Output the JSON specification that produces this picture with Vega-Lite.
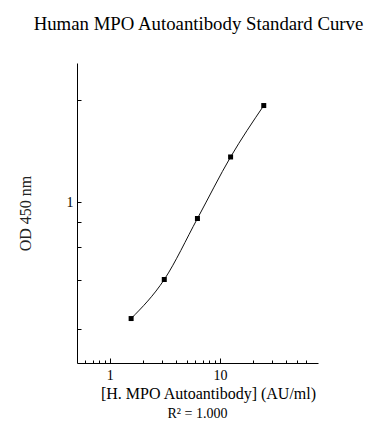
{
  "$schema": "https://vega.github.io/schema/vega-lite/v6.json",
  "background": "white",
  "padding": {"left": 17, "top": 15, "right": 5, "bottom": 5},
  "title": {"text": "Human MPO Autoantibody Standard Curve", "font": "Liberation Serif", "fontSize": 18.8, "fontWeight": "normal", "color": "#000", "anchor": "middle", "offset": 29, "dx": 31},
  "config": {"view": {"stroke": null}, "font": "Liberation Serif"},
  "vconcat": [
    {
      "title": {"text": "R² = 1.000", "orient": "bottom", "font": "Liberation Serif", "fontSize": 14, "fontWeight": "normal", "color": "#000", "anchor": "middle", "offset": 6},
      "width": 241,
      "height": 300,
      "data": {"values": [
        {"conc": 1.5625, "od": 0.268},
        {"conc": 3.125, "od": 0.417},
        {"conc": 6.25, "od": 0.832},
        {"conc": 12.5, "od": 1.67},
        {"conc": 25, "od": 2.99}
      ]},
      "encoding": {
        "x": {"field": "conc", "type": "quantitative",
          "scale": {"type": "log", "domain": [0.504, 77.7], "nice": false},
          "axis": {"values": [0.6, 0.7, 0.8, 0.9, 1, 2, 3, 4, 5, 6, 7, 8, 9, 10, 20, 30, 40, 50, 60],
            "labelExpr": "datum.value == 1 || datum.value == 10 ? datum.label : ''",
            "grid": false, "domainColor": "#000", "domainWidth": 1, "tickColor": "#000", "tickWidth": 1,
            "tickSize": {"condition": {"test": "datum.value == 1 || datum.value == 10", "value": -5}, "value": -3},
            "labelFont": "Liberation Serif", "labelFontSize": 14, "labelColor": "#000", "labelPadding": 10, "labelFlush": false, "labelOverlap": false,
            "title": "[H. MPO Autoantibody] (AU/ml)", "titleFont": "Liberation Serif", "titleFontSize": 16, "titleFontWeight": "normal", "titleColor": "#000", "titlePadding": 1, "titleX": 131}},
        "y": {"field": "od", "type": "quantitative",
          "scale": {"type": "log", "domain": [0.162, 4.84], "nice": false},
          "axis": {"values": [0.238, 0.415, 0.6, 0.8, 1, 3.2],
            "labelExpr": "datum.value == 1 ? '1' : ''",
            "grid": false, "domainColor": "#000", "domainWidth": 1, "tickColor": "#000", "tickWidth": 1, "tickSize": -4,
            "labelFont": "Liberation Serif", "labelFontSize": 14, "labelColor": "#000", "labelPadding": 8, "labelFlush": false, "labelOverlap": false,
            "title": "OD 450 nm", "titleFont": "Liberation Serif", "titleFontSize": 16, "titleFontWeight": "normal", "titleColor": "#222", "titlePadding": 33}}
      },
      "layer": [
        {"mark": {"type": "line", "interpolate": "monotone", "color": "#111", "strokeWidth": 1}},
        {"mark": {"type": "point", "shape": "square", "filled": true, "size": 25, "color": "#000", "opacity": 1}}
      ]
    }
  ]
}
